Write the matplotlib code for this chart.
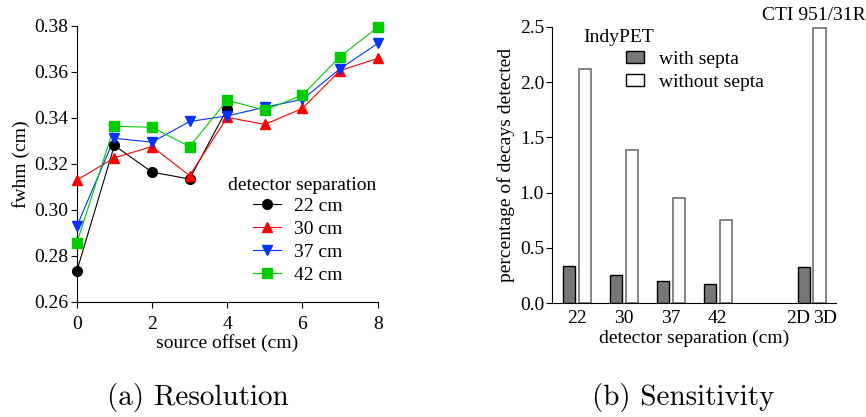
import matplotlib.pyplot as plt
from matplotlib.patches import Patch
from matplotlib.lines import Line2D

plt.rcParams['font.family'] = ['Liberation Serif', 'DejaVu Serif']

# (a) resolution: fwhm vs source offset
offset = [0, 1, 2, 3, 4, 5, 6, 7, 8]
fwhm_22 = [0.2733, 0.3280, 0.3164, 0.3134, 0.3440]
fwhm_30 = [0.3129, 0.3226, 0.3275, 0.3149, 0.3402, 0.3371, 0.3441, 0.3605, 0.3658]
fwhm_37 = [0.2928, 0.3311, 0.3294, 0.3384, 0.3408, 0.3446, 0.3480, 0.3613, 0.3723]
fwhm_42 = [0.2856, 0.3363, 0.3359, 0.3275, 0.3476, 0.3433, 0.3499, 0.3666, 0.3793]
series_labels = ['22 cm', '30 cm', '37 cm', '42 cm']

# (b) sensitivity
groups = ['22', '30', '37', '42']
with_septa = [0.337, 0.259, 0.205, 0.178]
without_septa = [2.117, 1.389, 0.955, 0.756]
cti_2d = 0.325
cti_3d = 2.485

fig = plt.figure(figsize=(8.66, 4.17), dpi=100)
fs = 14

# ---- left panel
ax1 = fig.add_axes([0.0886, 0.2758, 0.3476, 0.6626])
styles = [('black', 'o', fwhm_22), ('#ff0000', '^', fwhm_30),
          ('#0033ff', 'v', fwhm_37), ('#00cc00', 's', fwhm_42)]
handles = []
for (c, m, ys), lab in zip(styles, series_labels):
    ax1.plot(offset[:len(ys)], ys, color=c, lw=0.8, zorder=2)
    ax1.plot(offset[:len(ys)], ys, ls='none', marker=m, ms=7, color=c,
             mec=c, zorder=3, clip_on=False)
    handles.append(Line2D([], [], color=c, lw=0.8, marker=m, ms=7))
ax1.set_xlim(0, 8)
ax1.set_ylim(0.26, 0.38)
ax1.set_xticks([0, 2, 4, 6, 8])
ax1.set_yticks([0.26, 0.28, 0.30, 0.32, 0.34, 0.36, 0.38])
ax1.set_yticklabels(['%.2f' % v for v in ax1.get_yticks()])
ax1.set_xlabel('source offset (cm)', fontsize=fs, labelpad=1)
ax1.set_ylabel('fwhm (cm)', fontsize=fs, labelpad=3)
ax1.tick_params(labelsize=fs, direction='out', length=4, width=0.8, pad=2)
ax1.tick_params(axis='x', pad=6)
for s in ['top', 'right']:
    ax1.spines[s].set_visible(False)
fig.text(228 / 866, 1 - 185 / 417, 'detector separation', fontsize=fs,
         ha='left', va='center')
fig.legend(handles, series_labels, loc='upper left',
           bbox_to_anchor=(253 / 866, 1 - 197 / 417), frameon=False,
           fontsize=fs, handlelength=1.45, handletextpad=0.65,
           labelspacing=0.28, borderpad=0, borderaxespad=0)

# ---- right panel
ax2 = fig.add_axes([0.6378, 0.2727, 0.3276, 0.6633])
pos = [0, 1, 2, 3]
w = 0.26
d = 0.17
ax2.bar([p - d for p in pos], with_septa, width=w, color='#777777',
        edgecolor='black', lw=1)
ax2.bar([p + d for p in pos], without_septa, width=w, color='white',
        edgecolor='#707070', lw=1.2)
ax2.bar([5 - d], [cti_2d], width=w, color='#777777', edgecolor='black', lw=1)
ax2.bar([5 + d], [cti_3d], width=w, color='white', edgecolor='#707070', lw=1.2)
ax2.set_xlim(-0.52, 5.52)
ax2.set_ylim(0, 2.5)
ax2.set_xticks(pos + [5 - 0.03, 5 + 0.03])
ax2.set_xticklabels(groups + ['2D', '3D'])
labs = ax2.get_xticklabels()
labs[4].set_ha('right')
labs[5].set_ha('left')
ax2.set_yticks([0, 0.5, 1.0, 1.5, 2.0, 2.5])
ax2.set_yticklabels(['%.1f' % v for v in ax2.get_yticks()])
ax2.tick_params(axis='x', length=0, pad=5, labelsize=fs)
ax2.tick_params(axis='y', direction='out', length=4, width=0.8, labelsize=fs, pad=2)
ax2.set_xlabel('detector separation (cm)', fontsize=fs, labelpad=2)
ax2.set_ylabel('percentage of decays detected', fontsize=fs, labelpad=3)
for s in ['top', 'right']:
    ax2.spines[s].set_visible(False)
fig.text(583 / 866, 1 - 37 / 417, 'IndyPET', fontsize=fs, ha='left', va='center')
fig.text(866 / 866, 1 - 16 / 417, 'CTI 951/31R', fontsize=fs, ha='right', va='center')
bar_handles = [Patch(facecolor='#777777', edgecolor='black', lw=1),
               Patch(facecolor='white', edgecolor='black', lw=1)]
fig.legend(bar_handles, ['with septa', 'without septa'], loc='upper left',
           bbox_to_anchor=(626 / 866, 1 - 51 / 417), frameon=False,
           fontsize=fs, handlelength=0.95, handleheight=0.6,
           handletextpad=0.75, labelspacing=0.3, borderpad=0, borderaxespad=0)

# captions
fig.text(198 / 866, 1 - 398 / 417, '(a) Resolution', fontsize=21,
         family='cmr10', ha='center', va='center')
fig.text(683 / 866, 1 - 398 / 417, '(b) Sensitivity', fontsize=21,
         family='cmr10', ha='center', va='center')

fig.savefig('out.png', dpi=100)
